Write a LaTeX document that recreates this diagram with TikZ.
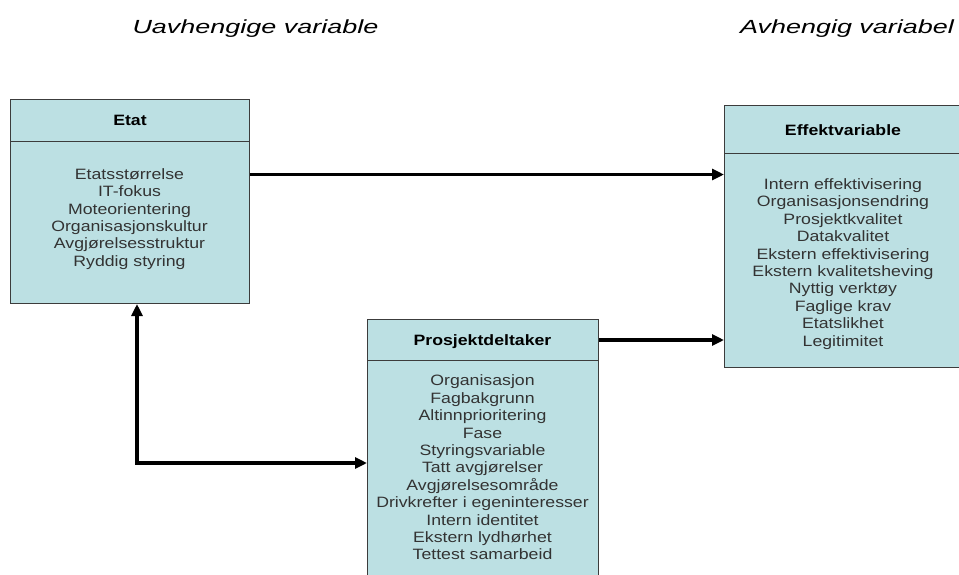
\documentclass[tikz,border=0pt]{standalone}
\usepackage{fontspec}
\setmainfont{Liberation Sans}
\newfontfamily\boxfont[FakeStretch=1.18]{Liberation Sans}
\newfontfamily\titlefont[FakeStretch=1.42]{Liberation Sans}
\usetikzlibrary{arrows.meta}
\definecolor{boxfill}{RGB}{188,224,227}
\definecolor{boxline}{RGB}{60,60,60}
\tikzset{
  panel/.style={draw=boxline, line width=1pt, fill=boxfill, rectangle, inner sep=0pt, anchor=north west},
  hdrtext/.style={font=\boxfont\bfseries\fontsize{15}{17.4}\selectfont, text=black, inner sep=0pt},
  itemtext/.style={font=\boxfont\fontsize{15}{17.4}\selectfont, align=center, text=black!80, inner sep=0pt},
  title/.style={font=\titlefont\itshape\fontsize{19}{22}\selectfont, inner sep=0pt, anchor=base},
  arr/.style={line width=3.3pt, -{Triangle[length=12pt,width=11pt]}},
  arrboth/.style={line width=3.3pt, {Triangle[length=12pt,width=11pt]}-{Triangle[length=12pt,width=11pt]}}
}
\begin{document}
\begin{tikzpicture}[x=1pt,y=-1pt]
\useasboundingbox (0,0) rectangle (959,574);
\clip (0,0) rectangle (959,574);
\fill[white] (0,0) rectangle (959,574);
% titles
\node[title] (t1) at (255.5,33) {Uavhengige variable};
\node[title] (t2) at (847,33) {Avhengig variabel};
% Etat
\node[panel, minimum width=239pt, minimum height=42pt] (etath) at (10,99) {};
\node[panel, minimum width=239pt, minimum height=162pt] (etatb) at (10,141) {};
\node[hdrtext] (etatt) at (etath.center) {Etat};
\node[itemtext] (etati) at (129.5,219) {Etatsstørrelse\\IT-fokus\\Moteorientering\\Organisasjonskultur\\Avgjørelsesstruktur\\Ryddig styring};
% Effektvariable
\node[panel, minimum width=238pt, minimum height=48pt] (effh) at (724,105) {};
\node[panel, minimum width=238pt, minimum height=214pt] (effb) at (724,153) {};
\node[hdrtext] (efft) at (843,130) {Effektvariable};
\node[itemtext] (effi) at (843,264) {Intern effektivisering\\Organisasjonsendring\\Prosjektkvalitet\\Datakvalitet\\Ekstern effektivisering\\Ekstern kvalitetsheving\\Nyttig verktøy\\Faglige krav\\Etatslikhet\\Legitimitet};
% Prosjektdeltaker
\node[panel, minimum width=231pt, minimum height=41pt] (pdh) at (367,319) {};
\node[panel, minimum width=231pt, minimum height=240pt] (pdb) at (367,360) {};
\node[hdrtext] (pdt) at (482.5,342) {Prosjektdeltaker};
\node[itemtext] (pdi) at (482.5,467.5) {Organisasjon\\Fagbakgrunn\\Altinnprioritering\\Fase\\Styringsvariable\\Tatt avgjørelser\\Avgjørelsesområde\\Drivkrefter i egeninteresser\\Intern identitet\\Ekstern lydhørhet\\Tettest samarbeid};
% connectors
\coordinate (corner) at (137,463);
\draw[arr] ([yshift=48pt]etatb.east) -- ([yshift=48pt]etatb.east -| effb.west);
\draw[arr] (pdh.east) -- (pdh.east -| effb.west);
\draw[arrboth] (corner |- etatb.south) -- (corner) -- (corner -| pdb.west);
\end{tikzpicture}
\end{document}
